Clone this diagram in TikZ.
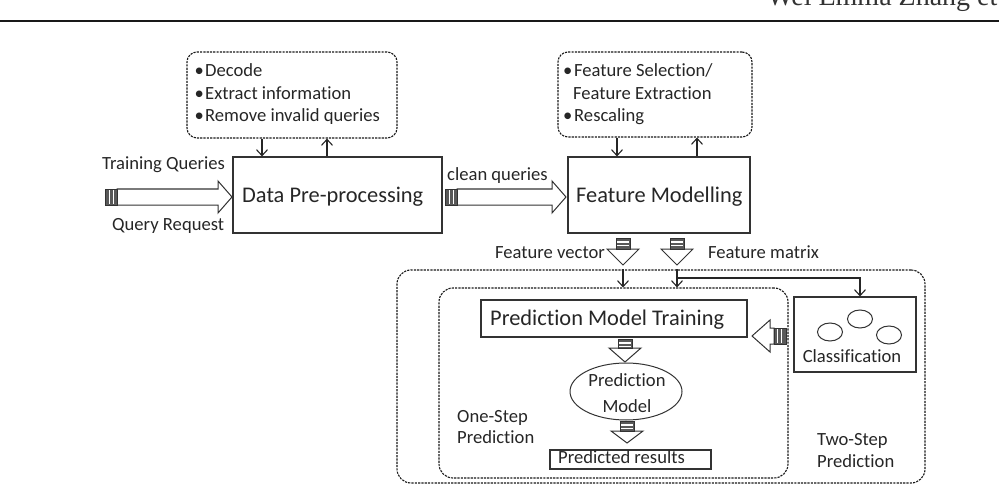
\documentclass[tikz,border=0pt]{standalone}
\usepackage{fontspec}
\setmainfont{Carlito}[Ligatures=NoCommon]
\newfontfamily\hdrfont{Liberation Serif}
\usetikzlibrary{arrows.meta,shapes.geometric}

% right-pointing block arrow: tail x, head base x, tip x, centre y
\newcommand\blkR[4]{%
  \draw[blk] (#1+12,#4-8) -- (#2,#4-8) -- (#2,#4-16) -- (#3,#4) -- (#2,#4+16) -- (#2,#4+8) -- (#1+12,#4+8) -- cycle;
  \draw[stripe] (#1,#4-8) rectangle (#1+12,#4+8);
  \draw[white, line width=1.4pt] (#1+4.5,#4-7) -- (#1+4.5,#4+7) (#1+8.5,#4-7) -- (#1+8.5,#4+7);
}
% left-pointing block arrow: tail x, head base x, tip x, centre y
\newcommand\blkL[4]{%
  \draw[blk] (#1-12,#4-8) -- (#2,#4-8) -- (#2,#4-16) -- (#3,#4) -- (#2,#4+16) -- (#2,#4+8) -- (#1-12,#4+8) -- cycle;
  \draw[stripe] (#1-12,#4-8) rectangle (#1,#4+8);
  \draw[white, line width=1.4pt] (#1-4.5,#4-7) -- (#1-4.5,#4+7) (#1-8.5,#4-7) -- (#1-8.5,#4+7);
}
% down-pointing block arrow: centre x, stripe top y, head base y, tip y
\newcommand\blkD[4]{%
  \draw[blk] (#1-7,#3) -- (#1-16,#3) -- (#1,#4) -- (#1+16,#3) -- (#1+7,#3) -- cycle;
  \draw[stripe] (#1-7,#2) rectangle (#1+7,#3);
  \draw[white, line width=1.2pt] (#1-6,#2+4) -- (#1+6,#2+4) (#1-6,#2+7.5) -- (#1+6,#2+7.5);
}

\begin{document}
\begin{tikzpicture}[x=1pt,y=-1pt,
  line join=miter,
  box/.style={draw=black!80, line width=1.1pt, inner sep=0pt},
  dbox/.style={draw=black!90, line width=1.1pt, dash pattern=on 2.2pt off 1.1pt, inner sep=0pt},
  big/.style={font=\fontsize{22.4}{26}\selectfont, text=black!85, inner sep=0pt, anchor=base west},
  sml/.style={font=\fontsize{18.6}{22}\selectfont, text=black!85, inner sep=0pt, anchor=base west},
  arr/.style={draw=black!85, line width=1.1pt, -{Straight Barb[length=6pt,width=11pt]}},
  blk/.style={draw=black!80, line width=1pt, fill=white},
  stripe/.style={draw=black!80, line width=0.8pt, fill=black!65},
  oval/.style={draw=black!80, line width=1pt, ellipse, inner sep=0pt},
]
\useasboundingbox (0,0) rectangle (999,484);

% page header
\begin{scope}
  \clip (0,0) rectangle (999,484);
  \node[anchor=base west, inner sep=0pt, text=black!80,
        font=\hdrfont\fontsize{28}{30}\selectfont] (hdr) at (767,6) {Wei Emma Zhang et al.};
\end{scope}
\draw[line width=1.5pt, black!90] (0,21) -- (999,21);

% top dashed boxes
\node[dbox, rounded corners=10pt, minimum width=210pt, minimum height=86pt] (pre) at (292,95) {};
\node[sml] (b1) at (194.5,77) {•};
\node[sml] (t1) at (205,77) {Decode};
\node[sml] (b2) at (194.5,99.5) {•};
\node[sml] (t2) at (205,99.5) {Extract information};
\node[sml] (b3) at (194.5,122) {•};
\node[sml] (t3) at (205,122) {Remove invalid queries};

\node[dbox, rounded corners=10pt, minimum width=194pt, minimum height=85pt] (fsel) at (655,94.5) {};
\node[sml] (b4) at (563,77) {•};
\node[sml] (t4) at (574,77) {Feature Selection/};
\node[sml] (t5) at (573,99.5) {Feature Extraction};
\node[sml] (b6) at (563,121.5) {•};
\node[sml] (t6) at (574,121.5) {Rescaling};

% main boxes
\node[box, minimum width=209pt, minimum height=76pt] (dp) at (337.5,195) {};
\node[big] (dpt) at (242,203) {Data Pre-processing};
\node[box, minimum width=182pt, minimum height=76pt] (fm) at (659,195) {};
\node[big] (fmt) at (576,203) {Feature Modelling};

% labels of input arrows
\node[sml] (tq) at (102,169) {Training Queries};
\node[sml] (qr) at (112,230) {Query Request};
\node[sml] (cq) at (447,181) {clean queries};

% thin arrows between dashed boxes and main boxes
\coordinate (xa) at (262,0);
\coordinate (xb) at (327,0);
\coordinate (xc) at (617,0);
\coordinate (xd) at (697,0);
\draw[arr] (pre.south -| xa) -- (dp.north -| xa);
\draw[arr] (dp.north -| xb) -- (pre.south -| xb);
\draw[arr] (fsel.south -| xc) -- (fm.north -| xc);
\draw[arr] (fm.north -| xd) -- (fsel.south -| xd);

% block arrows
\blkR{105}{218}{232}{197}
\blkR{445}{552}{566}{197}
\blkD{623}{238}{249}{265}
\blkD{677}{238}{249}{265}

\node[sml, anchor=base east] (fv) at (605,258) {Feature vector};
\node[sml] (fmx) at (708,258) {Feature matrix};

% prediction areas
\node[dbox, rounded corners=14pt, minimum width=528pt, minimum height=213pt] (outer) at (661,376.5) {};
\node[dbox, rounded corners=14pt, minimum width=349pt, minimum height=190pt] (inner) at (613.5,383) {};

\node[box, minimum width=266pt, minimum height=37pt] (pmt) at (614,318.5) {};
\node[big] (pmtt) at (490,325) {Prediction Model Training};

\node[oval, minimum width=112pt, minimum height=57pt] (pm) at (626,391.5) {};
\node[sml, anchor=base] (pm1) at (627,386) {Prediction};
\node[sml, anchor=base] (pm2) at (627,412) {Model};

\node[box, minimum width=161pt, minimum height=19pt] (pr) at (630.5,459.5) {};
\node[sml] (prt) at (558,463.5) {Predicted results};

\node[sml] (os1) at (457,422) {One-Step};
\node[sml] (os2) at (457,443) {Prediction};

\node[box, minimum width=122pt, minimum height=75pt] (cls) at (855,334.5) {};
\node[oval, minimum width=25pt, minimum height=18pt] (c1) at (830,332) {};
\node[oval, minimum width=25pt, minimum height=18pt] (c2) at (860,319) {};
\node[oval, minimum width=25pt, minimum height=18pt] (c3) at (889,335) {};
\node[sml, anchor=base] (clst) at (852,362) {Classification};

\node[sml] (ts1) at (817,445) {Two-Step};
\node[sml] (ts2) at (817,467) {Prediction};

\blkD{625}{339}{348}{362}
\blkD{627}{421}{431}{443}
\blkL{786}{770}{752}{336}

% thin arrows into prediction area
\coordinate (xe) at (623,0);
\coordinate (xf) at (677,0);
\coordinate (xg) at (860,0);
\coordinate (j) at (677,278);
\draw[arr] (outer.north -| xe) -- (inner.north -| xe);
\draw[arr] (outer.north -| xf) -- (inner.north -| xf);
\draw[arr] (j) -| (cls.north -| xg);

\end{tikzpicture}
\end{document}
